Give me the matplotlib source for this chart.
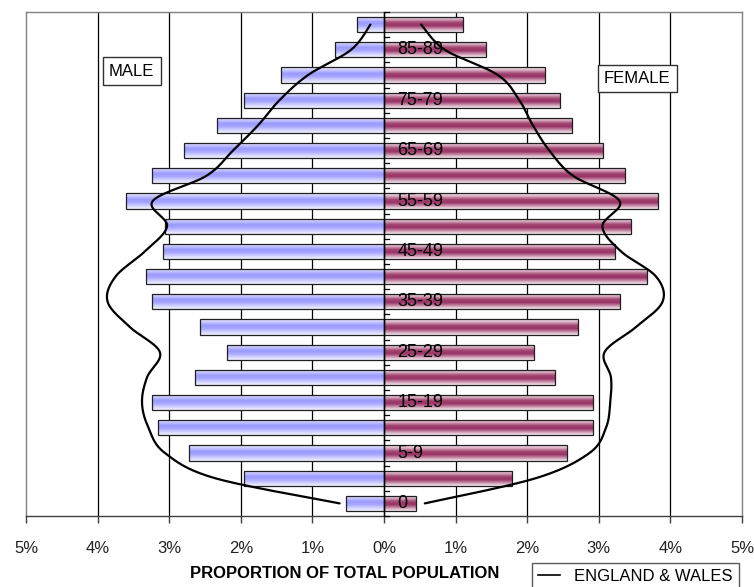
import numpy as np
import matplotlib
matplotlib.use("Agg")
import matplotlib.pyplot as plt
from matplotlib.colors import LinearSegmentedColormap
from matplotlib.lines import Line2D
from matplotlib.patches import Rectangle

plt.rcParams['font.family'] = ['Liberation Sans', 'DejaVu Sans']

# ---------------- data (bottom to top) ----------------
ages = ['0', '1-4', '5-9', '10-14', '15-19', '20-24', '25-29', '30-34', '35-39',
        '40-44', '45-49', '50-54', '55-59', '60-64', '65-69', '70-74', '75-79',
        '80-84', '85-89', '90+']
male = [0.53, 1.96, 2.72, 3.16, 3.24, 2.64, 2.19, 2.57, 3.24, 3.32, 3.08, 3.06,
        3.61, 3.24, 2.79, 2.33, 1.96, 1.44, 0.69, 0.38]
female = [0.44, 1.79, 2.56, 2.92, 2.92, 2.39, 2.10, 2.71, 3.30, 3.67, 3.23, 3.45,
          3.83, 3.37, 3.06, 2.63, 2.46, 2.25, 1.42, 1.11]
ew_male = [0.62, 2.36, 3.06, 3.29, 3.38, 3.31, 3.13, 3.55, 3.86, 3.75, 3.34, 3.03,
           3.23, 2.48, 2.11, 1.76, 1.46, 1.06, 0.46, 0.19]
ew_female = [0.57, 2.12, 2.87, 3.10, 3.16, 3.17, 3.08, 3.52, 3.89, 3.80, 3.31, 3.05,
             3.29, 2.64, 2.31, 2.08, 1.89, 1.59, 0.85, 0.52]
labelled_ages = ['0', '5-9', '15-19', '25-29', '35-39', '45-49', '55-59', '65-69',
                 '75-79', '85-89']
xticks = [-5, -4, -3, -2, -1, 0, 1, 2, 3, 4, 5]
xlabel = 'PROPORTION OF TOTAL POPULATION'
legend_label = 'ENGLAND & WALES'


def catmull_rom(xs, ys, n=20):
    """Smooth curve through the points (like a smoothed line)."""
    P = np.column_stack([xs, ys]).astype(float)
    P = np.vstack([P[0], P, P[-1]])
    out = []
    t = np.linspace(0, 1, n, endpoint=False)[:, None]
    for i in range(1, len(P) - 2):
        p0, p1, p2, p3 = P[i - 1], P[i], P[i + 1], P[i + 2]
        seg = 0.5 * ((2 * p1) + (-p0 + p2) * t + (2 * p0 - 5 * p1 + 4 * p2 - p3) * t ** 2
                     + (-p0 + 3 * p1 - 3 * p2 + p3) * t ** 3)
        out.append(seg)
    out.append(P[-2][None, :])
    out = np.vstack(out)
    return out[:, 0], out[:, 1]


W, H = 754, 587
fig = plt.figure(figsize=(W / 100, H / 100), dpi=100)
ax = fig.add_axes([26 / W, 1 - 516 / H, (742 - 26) / W, (516 - 12) / H])

y = np.arange(len(ages))
bh = 0.6
mbars = ax.barh(y, -np.array(male), height=bh, color='#9999ff', edgecolor='#202020',
                linewidth=0.9, zorder=3)
fbars = ax.barh(y, female, height=bh, color='#993366', edgecolor='#202020',
                linewidth=0.9, zorder=3)

cm_m = LinearSegmentedColormap.from_list('m', ['#f2f2ff', '#c4c4ff', '#9a9aff', '#a8a8ff',
                                               '#d0d0ff', '#f2f2ff'])
cm_f = LinearSegmentedColormap.from_list('f', ['#f6eef2', '#d8a8bf', '#a04470', '#993366',
                                               '#c890aa', '#f6eef2'])
grad = np.linspace(0, 1, 64)[:, None]
for bars, cm in ((mbars, cm_m), (fbars, cm_f)):
    for p in bars:
        x0, w = p.get_x(), p.get_width()
        y0, h = p.get_y(), p.get_height()
        im = ax.imshow(grad, extent=[min(x0, x0 + w), max(x0, x0 + w), y0, y0 + h],
                       aspect='auto', cmap=cm, interpolation='bilinear', zorder=2.5,
                       origin='upper')
        im.set_clip_path(p)
    for p in bars:
        p.set_facecolor('none')

# England & Wales smoothed curves
cx, cy = catmull_rom(-np.array(ew_male), y)
ax.plot(cx, cy, color='black', lw=1.6, zorder=4, solid_capstyle='round')
cx, cy = catmull_rom(np.array(ew_female), y)
ax.plot(cx, cy, color='black', lw=1.6, zorder=4, solid_capstyle='round')

ax.set_xlim(-5, 5)
ax.set_ylim(-0.5, len(ages) - 0.5)

# vertical grid
for xv in xticks[1:-1]:
    ax.axvline(xv, color='black', lw=0.9, zorder=1)

# frame
for s in ('top', 'right'):
    ax.spines[s].set_color('#808080')
    ax.spines[s].set_linewidth(1.0)
ax.spines['bottom'].set_color('#404040')
ax.spines['bottom'].set_linewidth(1.0)
ax.spines['left'].set_visible(False)
ax.plot([-5, -5], [-0.5, len(ages) - 0.5], color='#808080', lw=1.0, clip_on=False, zorder=1)

# central axis with inward ticks at category boundaries
ax.axvline(0, color='black', lw=1.0, zorder=5)
for b in np.arange(len(ages) + 1) - 0.5:
    ax.plot([0, 0.07], [b, b], color='black', lw=0.9, zorder=5, clip_on=False)
ax.set_yticks([])

ax.set_xticks(xticks)
ax.set_xticklabels([f'{abs(v)}%' for v in xticks], fontsize=12, color='#222222')
ax.tick_params(axis='x', direction='out', length=5, width=1.0, color='#404040', pad=13)

for a in labelled_ages:
    ax.text(0.19, ages.index(a), a, fontsize=13, color='black', ha='left',
            va='center', zorder=6)

fig.text(345 / W, 1 - 573 / H, xlabel, fontsize=12, fontweight='bold', ha='center',
         va='center')

box = dict(boxstyle='square,pad=0.38', facecolor='white', edgecolor='#303030', lw=1.0)
fig.text(131.7 / W, 1 - 71 / H, 'MALE', fontsize=12, ha='center', va='center', bbox=box)
fig.text(637.3 / W, 1 - 78.5 / H, 'FEMALE', fontsize=12, ha='center', va='center', bbox=box)

handle = Line2D([], [], color='black', lw=1.2)
leg = fig.legend([handle], [legend_label], loc='upper left',
                 bbox_to_anchor=(532 / W, 1 - 563 / H), fontsize=12, frameon=True,
                 fancybox=False, edgecolor='#303030', handlelength=1.3,
                 borderaxespad=0, borderpad=0.35, handletextpad=0.9)
leg.get_frame().set_linewidth(1.0)

fig.savefig('out.png', dpi=100)
